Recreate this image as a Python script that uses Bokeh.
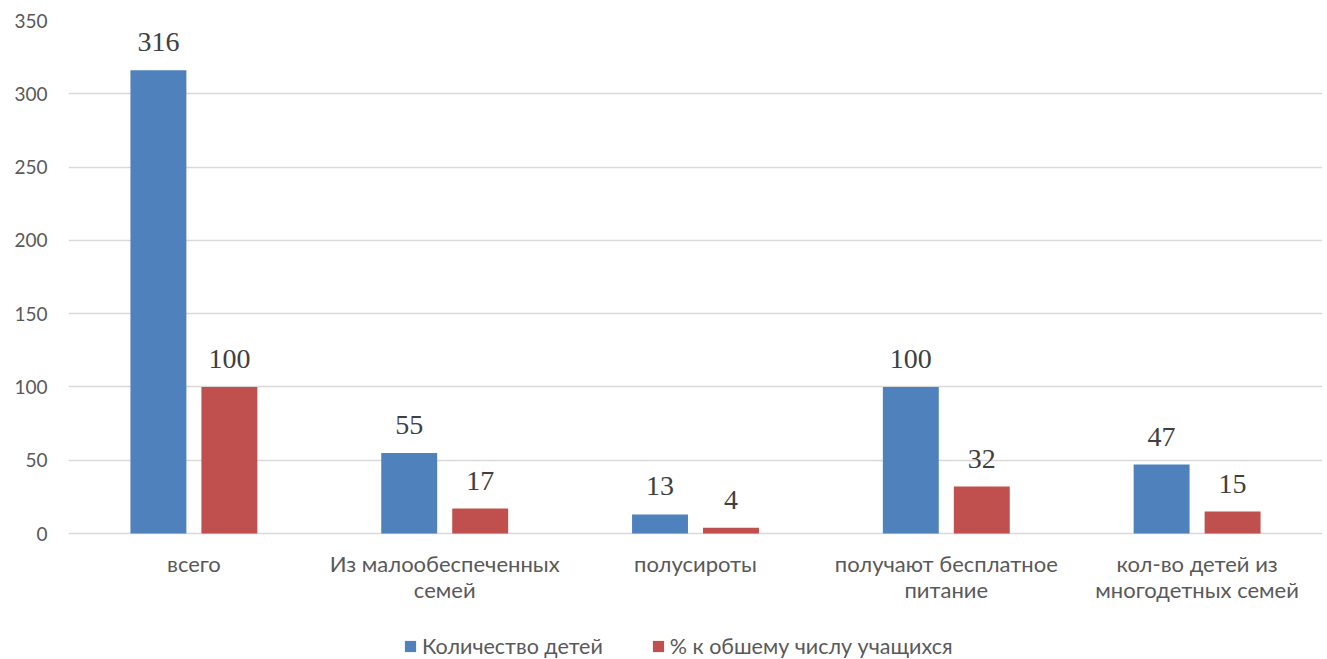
from bokeh.plotting import figure
from bokeh.models import FactorRange, Legend, LegendItem, ColumnDataSource, FixedTicker
from bokeh.transform import dodge
from bokeh.core.properties import value
from bokeh.embed import file_html
from bokeh.resources import INLINE

categories = ["всего", "Из малообеспеченных семей", "полусироты",
              "получают бесплатное питание", "кол-во детей из многодетных семей"]
label_line1 = ["всего", "Из малообеспеченных", "полусироты",
               "получают бесплатное", "кол-во детей из"]
label_line2 = ["", "семей", "", "питание", "многодетных семей"]
series_names = ["Количество детей", "% к обшему числу учащихся"]
count_values = [316, 55, 13, 100, 47]
percent_values = [100, 17, 4, 32, 15]
y_ticks = [0, 50, 100, 150, 200, 250, 300, 350]

BLUE = "#4F81BD"
RED = "#C0504D"
FONT = "Lato"
GREY = "#595959"

src = ColumnDataSource(dict(
    cat=categories,
    cnt=count_values,
    pct=percent_values,
    cnt_txt=[str(v) for v in count_values],
    pct_txt=[str(v) for v in percent_values],
    l1=label_line1,
    l2=label_line2,
    zero=[0] * len(categories),
))

# frame extends below zero so category labels and legend can be drawn inside it
PLOT_H = 513      # pixels from 0 to 350
BELOW_H = 126     # pixels below zero for labels and legend
y_max = y_ticks[-1]
y_min = -y_max * BELOW_H / PLOT_H

p = figure(frame_width=1254, frame_height=PLOT_H + BELOW_H, output_backend="svg",
           toolbar_location=None, x_axis_location=None,
           x_range=FactorRange(factors=categories, range_padding=0),
           y_range=(y_min, y_max),
           min_border_left=68, min_border_right=5, min_border_top=20, min_border_bottom=0)
p.outline_line_color = None
p.background_fill_color = "white"
p.border_fill_color = "white"

off = 0.1415
bw = 0.223
r1 = p.vbar(x=dodge("cat", -off, range=p.x_range), top="cnt", width=bw, source=src,
            fill_color=BLUE, line_color=None)
r2 = p.vbar(x=dodge("cat", off, range=p.x_range), top="pct", width=bw, source=src,
            fill_color=RED, line_color=None)

for col, txt, dx in (("cnt", "cnt_txt", -off), ("pct", "pct_txt", off)):
    p.text(x=dodge("cat", dx, range=p.x_range), y=col, text=txt, source=src,
           text_align="center", text_baseline="alphabetic", y_offset=-28,
           text_font=value("Liberation Serif"), text_font_size="28px", text_color="#404040")

# category labels (two lines) under the zero line
for txt, dy in (("l1", 30), ("l2", 56)):
    p.text(x="cat", y="zero", text=txt, source=src, text_align="center",
           text_baseline="alphabetic", y_offset=dy,
           text_font=value(FONT), text_font_size="22px", text_color=GREY)

# y axis
p.yaxis.ticker = FixedTicker(ticks=y_ticks)
p.yaxis.axis_line_color = None
p.yaxis.major_tick_line_color = None
p.yaxis.minor_tick_line_color = None
p.yaxis.major_tick_out = 0
p.yaxis.major_label_text_font = FONT
p.yaxis.major_label_text_font_size = "19px"
p.yaxis.major_label_text_color = GREY
p.yaxis.major_label_standoff = 21

p.xgrid.grid_line_color = None
p.ygrid.grid_line_color = "#D9D9D9"
p.ygrid.grid_line_width = 1.5

legend = Legend(items=[LegendItem(label=series_names[0], renderers=[r1]),
                       LegendItem(label=series_names[1], renderers=[r2])],
                orientation="horizontal", location=(335, 0),
                label_text_font=FONT, label_text_font_size="21.5px", label_text_color=GREY,
                glyph_width=14, glyph_height=14, spacing=48, label_standoff=5,
                border_line_color=None, background_fill_alpha=0, padding=0, margin=0)
p.add_layout(legend, "center")

open("out.html", "w").write(file_html(p, INLINE))
